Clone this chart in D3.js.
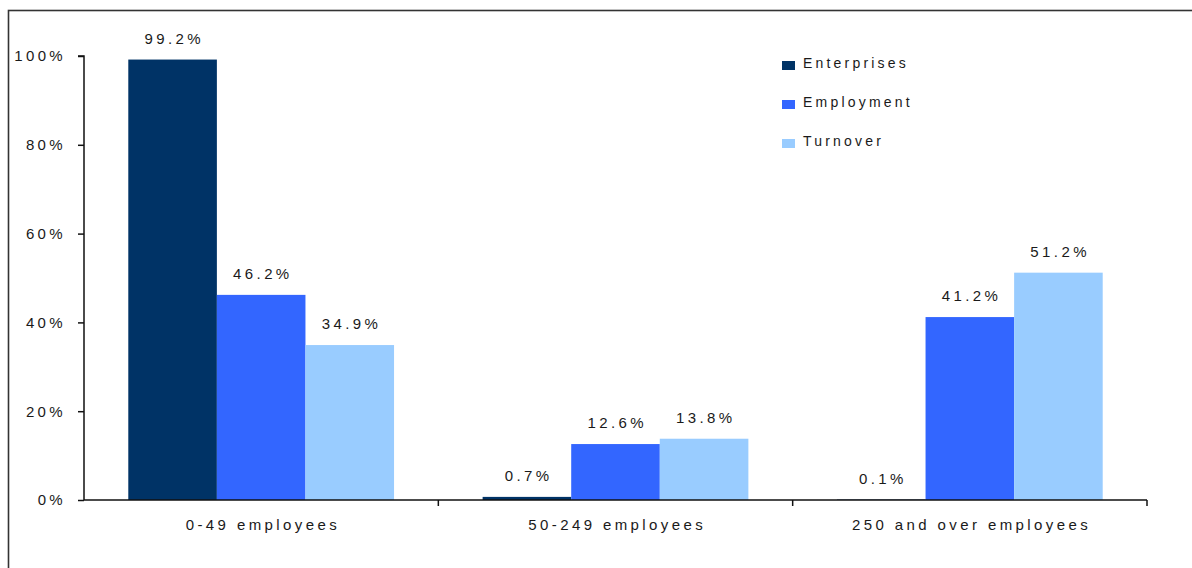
<!DOCTYPE html>
<html>
<head>
<meta charset="utf-8">
<script src="https://cdn.jsdelivr.net/npm/d3@7"></script>
<style>
  html, body { margin: 0; padding: 0; background: #fff; }
  svg { display: block; }
  text { font-family: "Liberation Sans", Arial, sans-serif; fill: #1a1a1a; }
</style>
</head>
<body>
<svg id="chart" width="1192" height="568"></svg>
<script>
// Share of enterprises, employment and turnover by enterprise size class
const categories = ["0-49 employees", "50-249 employees", "250 and over employees"];
const seriesNames = ["Enterprises", "Employment", "Turnover"];
const enterprises = [99.2, 0.7, 0.1];
const employment = [46.2, 12.6, 41.2];
const turnover = [34.9, 13.8, 51.2];
const yTicks = [0, 20, 40, 60, 80, 100];
const colors = ["#003366", "#3366ff", "#99ccff"];

const seriesValues = [enterprises, employment, turnover];

const fontSize = 15;
const spacing = 3.4; // wide tracking of the labels

const svg = d3.select("#chart");

// outer frame
svg.append("rect")
  .attr("x", 8.5).attr("y", 10.5)
  .attr("width", 1200).attr("height", 600)
  .attr("fill", "none").attr("stroke", "#333").attr("stroke-width", 1.6);

const plotLeft = 84, plotRight = 1147, plotTop = 56, plotBottom = 500;

const x0 = d3.scaleBand().domain(categories).range([plotLeft, plotRight]).paddingInner(0).paddingOuter(0);
const x1 = d3.scaleBand().domain(seriesNames).range([0, x0.bandwidth()]).paddingOuter(0.5).paddingInner(0);
const y = d3.scaleLinear().domain([0, 100]).range([plotBottom, plotTop]);

function styleText(sel, size = fontSize, track = spacing) {
  sel.attr("font-size", size)
    .attr("letter-spacing", track + "px")
    .style("font-family", "'Liberation Sans', Arial, sans-serif")
    .attr("fill", "#1a1a1a");
}

// y axis
const yAxis = d3.axisLeft(y).tickValues(yTicks).tickFormat(d => d + "%").tickSize(6).tickPadding(15.3 - spacing);
const gy = svg.append("g").attr("transform", `translate(${plotLeft},0)`).call(yAxis);
gy.select(".domain").attr("stroke", "#111").attr("stroke-width", 1.5).attr("d", `M-6,${plotTop}H0V${plotBottom}`);
gy.selectAll(".tick line").attr("stroke", "#111").attr("stroke-width", 1.5);
gy.selectAll(".tick text").call(styleText);

// bars
const groups = svg.append("g").selectAll("g")
  .data(categories)
  .join("g")
  .attr("transform", d => `translate(${x0(d)},0)`);

groups.selectAll("rect")
  .data((c, i) => seriesNames.map((s, j) => ({ s, v: seriesValues[j][i], j })))
  .join("rect")
  .attr("x", d => x1(d.s))
  .attr("width", x1.bandwidth())
  .attr("y", d => y(d.v))
  .attr("height", d => plotBottom - y(d.v))
  .attr("fill", d => colors[d.j]);

groups.selectAll("text.val")
  .data((c, i) => seriesNames.map((s, j) => ({ s, v: seriesValues[j][i], j })))
  .join("text")
  .attr("class", "val")
  .attr("x", d => x1(d.s) + x1.bandwidth() / 2 + spacing / 2)
  .attr("y", d => y(d.v) - 16)
  .attr("text-anchor", "middle")
  .call(styleText)
  .text(d => d.v.toFixed(1) + "%");

// x axis
const xAxis = d3.axisBottom(x0).tickSize(0).tickPadding(19);
const gx = svg.append("g").attr("transform", `translate(0,${plotBottom})`).call(xAxis);
gx.select(".domain").attr("stroke", "#111").attr("stroke-width", 1.5).attr("d", `M${plotLeft},0H${plotRight}`);
gx.selectAll(".tick text").call(styleText).attr("dx", spacing / 2);
// boundary ticks between categories
gx.selectAll("line.sep")
  .data(categories.slice(1).map(c => x0(c)).concat([plotRight]))
  .join("line")
  .attr("class", "sep")
  .attr("x1", d => d).attr("x2", d => d)
  .attr("y1", 0).attr("y2", 6)
  .attr("stroke", "#111").attr("stroke-width", 1.5);

// legend
const legend = svg.append("g").attr("transform", "translate(782,61)");
const li = legend.selectAll("g").data(seriesNames).join("g")
  .attr("transform", (d, i) => `translate(0,${i * 39})`);
li.append("rect").attr("width", 13).attr("height", 9).attr("y", 0)
  .attr("fill", (d, i) => colors[i]);
li.append("text").attr("x", 21).attr("y", 6.5)
  .call(styleText, 14, 3.2)
  .text(d => d);
</script>
</body>
</html>
